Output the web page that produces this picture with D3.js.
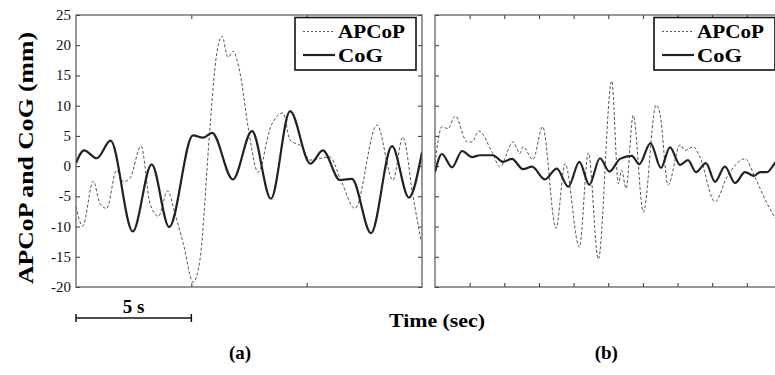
<!DOCTYPE html>
<html>
<head>
<meta charset="utf-8">
<script src="https://cdn.jsdelivr.net/npm/d3@7"></script>
<style>
  body { margin: 0; background: #ffffff; }
</style>
</head>
<body>
<div id="chart"></div>
<script>
// Data (time in seconds, displacement in mm)
var yTicks = [-20, -15, -10, -5, 0, 5, 10, 15, 20, 25];
var leftXTicks = [5, 10];
var rightXTicks = [1.5, 3, 4.5, 6, 7.5, 9, 10.5, 12, 13.5];

// (a) left panel
var cogTimeA = [0, 0.35, 0.9, 1.5, 2.46, 3.28, 4.04, 5.07, 5.5, 5.9, 6.8, 7.63, 8.45, 9.28, 10.16, 10.7, 11.44, 11.96, 12.79, 13.7, 14.43, 15];
var cogA = [0.5, 2.6, 1.3, 4.2, -10.8, 0.3, -10.1, 5.1, 4.7, 5.5, -2.2, 5.8, -5.4, 9.1, 0.4, 2.6, -2.3, -2.1, -11.1, 3.3, -5.2, 2.3];

var apTimeA = [0, 0.29, 0.75, 1.04, 1.33, 1.76, 2.05, 2.34, 2.82, 3.21, 3.57, 3.97, 4.29, 4.65, 5.08, 5.37, 5.81, 6.03, 6.33, 6.59, 6.81, 7.11, 7.46, 7.89, 8.06, 8.28, 8.5, 8.97, 9.28, 9.79, 10.14, 11.0, 11.5, 12.09, 13.05, 13.74, 14.17, 14.61, 14.95];
var apA = [-6.7, -9.9, -2.5, -6.2, -7.0, -0.7, -2.6, -2.0, 3.3, -6.2, -8.3, -4.1, -7.8, -12.8, -19.2, -15.6, 6.5, 16.5, 21.5, 18, 19, 15.4, 6.5, -1, 0.2, 4.3, 7, 8.8, 4.3, 3.2, 1, 1.5, -2.5, -7, 6.8, -2.3, 4.8, -5, -12.2];

// (b) right panel
var cogTimeB = [0, 0.3, 0.74, 1.17, 1.6, 1.95, 2.51, 2.94, 3.33, 3.81, 4.2, 4.76, 5.27, 5.77, 6.25, 6.68, 7.14, 7.55, 8.01, 8.52, 8.84, 9.33, 9.78, 10.17, 10.61, 10.95, 11.3, 11.73, 12.12, 12.55, 12.99, 13.42, 13.81, 14.07, 14.37, 14.72, 15];
var cogB = [-1, 2.0, -0.2, 2.5, 1.5, 1.8, 1.8, 0.7, 1.2, -0.5, -0.1, -2.2, -0.4, -3.4, 0.7, -3.1, 1.3, -0.9, 1.2, 1.7, 0.3, 3.8, -0.3, 3.1, 0.2, 1.0, -1, 0.5, -2.6, -0.1, -2.8, -1.0, -1.6, -1.0, -1.0, 0.5, 1.5];

var apTimeB = [0, 0.3, 0.56, 0.87, 1.39, 1.6, 1.9, 2.47, 2.81, 3.38, 3.68, 3.81, 4.24, 4.66, 5.24, 5.63, 6.25, 6.64, 7.07, 7.65, 7.94, 8.08, 8.27, 8.58, 9.02, 9.57, 9.74, 10.09, 10.61, 10.82, 11.17, 11.47, 12.12, 12.64, 13.42, 13.85, 14.2, 14.72, 15];
var apB = [0.5, 6.5, 6.2, 8.3, 4.0, 4.0, 5.8, 2.3, -0.1, 4.0, 2.1, 3.2, 1.1, 6.5, -10.3, 0.4, -13.4, 2.2, -15.4, 14.1, -2.9, -0.7, -3.7, 8.4, -7.6, 10.1, 8.7, -3.1, 3.5, 2.6, 3.2, 1.5, -5.9, -1.8, 1.2, -1.8, -4.8, -8.5, -10];

var seriesNames = ["APCoP", "CoG"];

(function() {
    // Layout
    var width = 775, height = 375;
    var plotTop = 15, plotBottom = 287;
    var panels = [
        {id: "a", left: 76, right: 422, cogT: cogTimeA, cog: cogA, apT: apTimeA, ap: apA, xTicks: leftXTicks, label: "(a)"},
        {id: "b", left: 435, right: 781.5, cogT: cogTimeB, cog: cogB, apT: apTimeB, ap: apB, xTicks: rightXTicks, label: "(b)"}
    ];

    var svg = d3.select("#chart")
        .append("svg")
            .attr("width", width)
            .attr("height", height)
            .attr("font-family", "'Liberation Serif', 'Times New Roman', Times, serif");

    svg.append("rect")
        .attr("width", width)
        .attr("height", height)
        .attr("fill", "#ffffff");

    var yScale = d3.scaleLinear()
        .domain([-20, 25])
        .range([plotBottom, plotTop]);

    panels.forEach(function(p) {
        var xScale = d3.scaleLinear()
            .domain([0, 15])
            .range([p.left, p.right]);

        var g = svg.append("g");

        svg.append("clipPath")
            .attr("id", "clip-" + p.id)
            .append("rect")
                .attr("x", p.left)
                .attr("y", plotTop)
                .attr("width", p.right - p.left)
                .attr("height", plotBottom - plotTop);

        // ticks on all four sides, pointing in
        g.append("g")
            .attr("transform", "translate(" + p.left + ",0)")
            .call(d3.axisRight(yScale).tickValues(yTicks).tickSize(4).tickFormat(""));
        g.append("g")
            .attr("transform", "translate(" + p.right + ",0)")
            .call(d3.axisLeft(yScale).tickValues(yTicks).tickSize(4).tickFormat(""));
        g.append("g")
            .attr("transform", "translate(0," + plotTop + ")")
            .call(d3.axisBottom(xScale).tickValues(p.xTicks).tickSize(4).tickFormat(""));
        g.append("g")
            .attr("transform", "translate(0," + plotBottom + ")")
            .call(d3.axisTop(xScale).tickValues(p.xTicks).tickSize(4).tickFormat(""));
        g.selectAll(".domain").remove();
        g.selectAll(".tick line").attr("stroke", "#333");

        var line = d3.line()
            .x(function(d) { return xScale(d[0]); })
            .y(function(d) { return yScale(d[1]); })
            .curve(d3.curveMonotoneX);

        var lines = g.append("g").attr("clip-path", "url(#clip-" + p.id + ")");

        lines.append("path")
            .datum(d3.zip(p.apT, p.ap))
            .attr("d", line)
            .attr("fill", "none")
            .attr("stroke", "#555")
            .attr("stroke-width", 1)
            .attr("stroke-dasharray", "3,2");

        lines.append("path")
            .datum(d3.zip(p.cogT, p.cog))
            .attr("d", line)
            .attr("fill", "none")
            .attr("stroke", "#222")
            .attr("stroke-width", 2.2);

        // panel frame
        g.append("rect")
            .attr("x", p.left)
            .attr("y", plotTop)
            .attr("width", p.right - p.left)
            .attr("height", plotBottom - plotTop)
            .attr("fill", "none")
            .attr("stroke", "#555")
            .attr("stroke-width", 1.2);

        // legend
        var lx = p.left + 219;
        var legend = g.append("g");
        legend.append("rect")
            .attr("x", lx)
            .attr("y", 17.5)
            .attr("width", 121)
            .attr("height", 52.5)
            .attr("fill", "#fff")
            .attr("stroke", "#111")
            .attr("stroke-width", 1.6);
        legend.append("line")
            .attr("x1", lx + 8).attr("x2", lx + 40)
            .attr("y1", 31.5).attr("y2", 31.5)
            .attr("stroke", "#555")
            .attr("stroke-width", 1)
            .attr("stroke-dasharray", "2,2");
        legend.append("line")
            .attr("x1", lx + 8).attr("x2", lx + 40)
            .attr("y1", 55).attr("y2", 55)
            .attr("stroke", "#222")
            .attr("stroke-width", 2.2);
        legend.append("text")
            .attr("x", lx + 43)
            .attr("y", 37.5)
            .attr("font-size", "19px")
            .attr("font-weight", "bold")
            .attr("textLength", 67)
            .attr("lengthAdjust", "spacingAndGlyphs")
            .text(seriesNames[0]);
        legend.append("text")
            .attr("x", lx + 43)
            .attr("y", 61.5)
            .attr("font-size", "19px")
            .attr("font-weight", "bold")
            .attr("textLength", 45)
            .attr("lengthAdjust", "spacingAndGlyphs")
            .text(seriesNames[1]);

        // panel label
        svg.append("text")
            .attr("x", (p.left + p.right) / 2 + (p.id === "a" ? -9 : -2))
            .attr("y", 359)
            .attr("text-anchor", "middle")
            .attr("font-size", "19px")
            .attr("font-weight", "bold")
            .text(p.label);
    });

    // y tick labels on the left panel only
    svg.append("g")
        .selectAll("text")
        .data(yTicks)
        .enter()
        .append("text")
            .attr("x", 71)
            .attr("y", function(d) { return yScale(d) + 5; })
            .attr("text-anchor", "end")
            .attr("font-size", "15px")
            .attr("fill", "#111")
            .text(function(d) { return d; });

    // y axis title
    svg.append("text")
        .attr("transform", "translate(33,158) rotate(-90)")
        .attr("text-anchor", "middle")
        .attr("font-size", "22px")
        .attr("font-weight", "bold")
        .attr("textLength", 252)
        .attr("lengthAdjust", "spacingAndGlyphs")
        .text("APCoP and CoG (mm)");

    // x axis title
    svg.append("text")
        .attr("x", 437)
        .attr("y", 327)
        .attr("text-anchor", "middle")
        .attr("font-size", "19px")
        .attr("font-weight", "bold")
        .attr("textLength", 96)
        .attr("lengthAdjust", "spacingAndGlyphs")
        .text("Time (sec)");

    // 5 s scale bar
    var barScale = d3.scaleLinear().domain([0, 15]).range([76, 422]);
    var bar = svg.append("g").attr("stroke", "#111").attr("stroke-width", 1.5);
    bar.append("line")
        .attr("x1", barScale(0)).attr("x2", barScale(5))
        .attr("y1", 318).attr("y2", 318);
    bar.append("line")
        .attr("x1", barScale(0)).attr("x2", barScale(0))
        .attr("y1", 314).attr("y2", 322);
    bar.append("line")
        .attr("x1", barScale(5)).attr("x2", barScale(5))
        .attr("y1", 314).attr("y2", 322);
    svg.append("text")
        .attr("x", barScale(2.5))
        .attr("y", 313)
        .attr("text-anchor", "middle")
        .attr("font-size", "19px")
        .attr("font-weight", "bold")
        .text("5 s");
})();
</script>
</body>
</html>
